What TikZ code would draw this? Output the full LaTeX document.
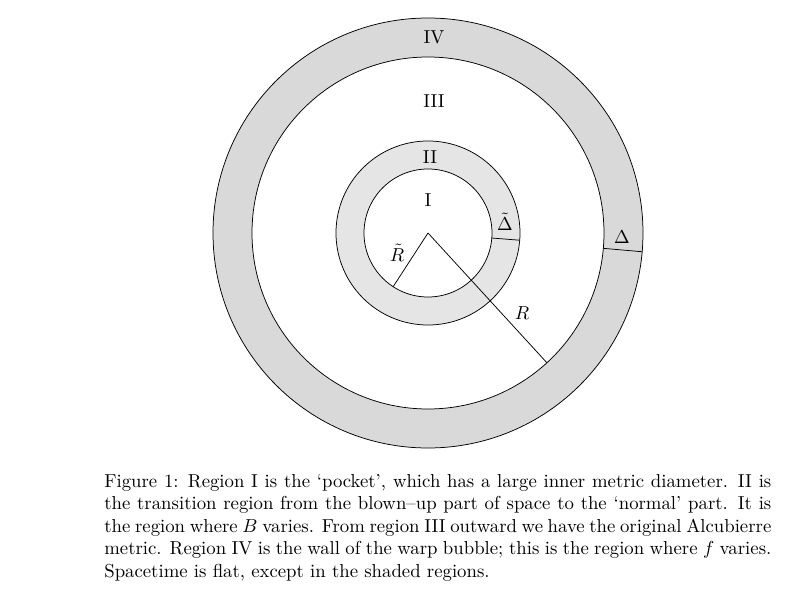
\documentclass[tikz,border=0pt]{standalone}
\usepackage{amsmath,amssymb}
\usepackage{tikz}
\usetikzlibrary{calc}

\begin{document}
\begin{tikzpicture}[x=0.5333pt,y=0.5333pt]
        \useasboundingbox (-428,233) rectangle (372,-365);

        \coordinate (o) at (0,0);

        % shaded regions IV and II
        \filldraw[fill=gray!30, even odd rule] (o) circle (215) (o) circle (176);
        \filldraw[fill=gray!20, even odd rule] (o) circle (92) (o) circle (64);

        \coordinate (r) at (-47.5:176);
        \coordinate (rt) at (-123:64);
        \coordinate (d1) at (-5:176);
        \coordinate (d2) at (-5:215);
        \coordinate (dt1) at (-4.5:64);
        \coordinate (dt2) at (-4.5:92);

        \draw (o) -- (r);
        \draw (o) -- (rt);
        \draw (d1) -- (d2);
        \draw (dt1) -- (dt2);

        \node (iv) at (6,196) {IV};
        \node (iii) at (6,132) {III};
        \node (ii) at (2,76) {II};
        \node (i) at (0,33) {I};
        \node (lD) at (194,-4) {$\Delta$};
        \node (lDt) at (77,11) {$\tilde{\Delta}$};
        \node (lR) at (94,-80) {$R$};
        \node (lRt) at (-31,-20) {$\tilde{R}$};

        \node[anchor=base west, text width=355.7pt, align=justify, inner sep=0pt] (cap) at (-324,-254)
        {Figure 1: Region I is the `pocket', which has a large inner metric diameter. II is\linebreak
        the transition region from the blown--up part of space to the `normal' part. It is\linebreak
        the region where $B$ varies. From region III outward we have the original Alcubierre\linebreak
        metric. Region IV is the wall of the warp bubble; this is the region where $f$ varies.\linebreak
        Spacetime is flat, except in the shaded regions.};

    \end{tikzpicture}
\end{document}
